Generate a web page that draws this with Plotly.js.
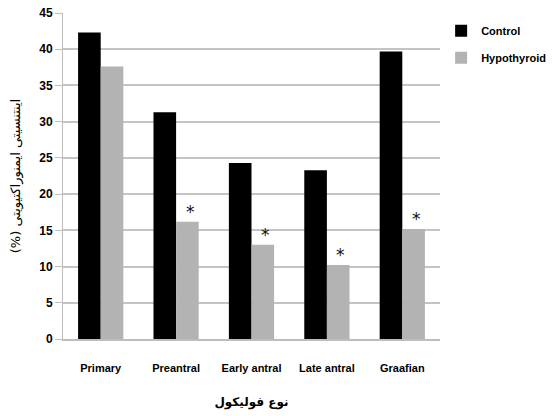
<!DOCTYPE html>
<html>
<head>
<meta charset="utf-8">
<script src="https://cdn.plot.ly/plotly-3.0.1.min.js"></script>
<style>html,body{margin:0;padding:0;background:#fff;}#chart{width:552px;height:416px;}</style>
</head>
<body>
<div id="chart"></div>
<script>
const categories = ["Primary", "Preantral", "Early antral", "Late antral", "Graafian"];
const controlValues = [42.3, 31.3, 24.3, 23.3, 39.7];
const hypothyroidValues = [37.6, 16.2, 13.0, 10.2, 15.2];
const significant = [false, true, true, true, true];
const yTickValues = [0, 5, 10, 15, 20, 25, 30, 35, 40, 45];

const labelFont = '"Liberation Sans", Arial, sans-serif';

const traces = [
  {type: 'bar', name: 'Control', x: categories, y: controlValues,
   marker: {color: '#000000'}, legendgroup: 'a'},
  {type: 'bar', name: 'Hypothyroid', x: categories, y: hypothyroidValues,
   marker: {color: '#b3b3b3'}, legendgroup: 'b'}
];

const annotations = categories.map((c, i) => significant[i] ? {
  x: c, y: hypothyroidValues[i], xref: 'x', yref: 'y',
  text: '*', showarrow: false, xshift: 14, yshift: -2,
  yanchor: 'bottom', font: {family: 'DejaVu Sans', size: 17, color: '#111'}
} : null).filter(a => a);

const layout = {
  width: 552, height: 416,
  margin: {l: 63, r: 112, t: 13, b: 77, autoexpand: false},
  paper_bgcolor: '#ffffff', plot_bgcolor: '#ffffff',
  barmode: 'group', bargap: 0.4, bargroupgap: 0,
  font: {family: labelFont, color: '#000'},
  xaxis: {
    automargin: false,
    showgrid: false, showline: true, linecolor: '#bdbdbd', linewidth: 2,
    ticks: '', ticklabelstandoff: 18, tickangle: 0,
    tickfont: {family: labelFont, size: 11, weight: 'bold'},
    title: {text: 'نوع فولیکول', standoff: 24,
            font: {family: 'DejaVu Sans', size: 12, weight: 'bold'}}
  },
  yaxis: {
    automargin: false,
    range: [0, 45], tickvals: yTickValues, ticktext: yTickValues.map(String),
    showgrid: true, gridcolor: '#c4c4c4', gridwidth: 2,
    showline: true, linecolor: '#bdbdbd', linewidth: 1,
    ticks: 'outside', ticklen: 7, tickcolor: '#bdbdbd', tickwidth: 1,
    tickfont: {family: labelFont, size: 12, weight: 'bold'},
    zeroline: false,
    title: {text: '(%) اینتنسیتی ایمنوراکتیویتی', standoff: 15,
            font: {family: 'DejaVu Sans', size: 13}}
  },
  legend: {
    x: 1.003, y: 0.99, xanchor: 'left', yanchor: 'top',
    traceorder: 'grouped', tracegroupgap: 8,
    font: {family: labelFont, size: 11, weight: 'bold'},
    itemwidth: 30, bgcolor: 'rgba(0,0,0,0)'
  },
  annotations: annotations,
  showlegend: true
};

Plotly.newPlot('chart', traces, layout, {displayModeBar: false, staticPlot: true});
</script>
</body>
</html>
